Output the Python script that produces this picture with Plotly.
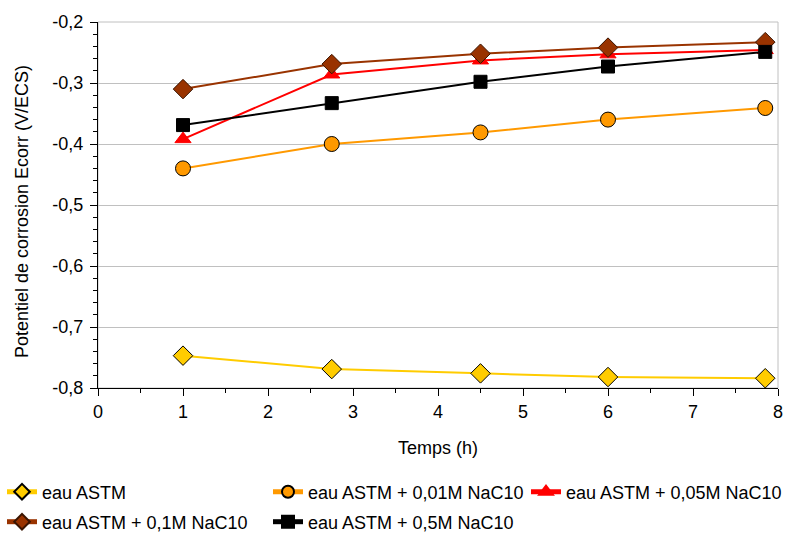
import plotly.graph_objects as go

temps = [1, 2.75, 4.5, 6, 7.85]
names = ["eau ASTM", "eau ASTM + 0,01M NaC10", "eau ASTM + 0,05M NaC10",
         "eau ASTM + 0,1M NaC10", "eau ASTM + 0,5M NaC10"]
eau_astm = [-0.747, -0.769, -0.776, -0.782, -0.784]
nac_001 = [-0.440, -0.400, -0.381, -0.360, -0.341]
nac_005 = [-0.392, -0.286, -0.263, -0.253, -0.246]
nac_01 = [-0.310, -0.269, -0.252, -0.242, -0.233]
nac_05 = [-0.369, -0.333, -0.298, -0.273, -0.249]
series = [eau_astm, nac_001, nac_005, nac_01, nac_05]

y_tickvals = [-0.8, -0.7, -0.6, -0.5, -0.4, -0.3, -0.2]
y_ticktext = ["-0,8", "-0,7", "-0,6", "-0,5", "-0,4", "-0,3", "-0,2"]
x_tickvals = [0, 1, 2, 3, 4, 5, 6, 7, 8]
y_title = "Potentiel de corrosion Ecorr (V/ECS)"
x_title = "Temps (h)"

styles = [
    dict(line="#FFCC00", fill="#FFCC00", outline="#000000", symbol="diamond", size=15),
    dict(line="#FF9900", fill="#FF9900", outline="#000000", symbol="circle", size=15),
    dict(line="#FF0000", fill="#FF0000", outline="#FF0000", symbol="triangle-up", size=14),
    dict(line="#993300", fill="#993300", outline="#3a1400", symbol="diamond", size=15),
    dict(line="#000000", fill="#000000", outline="#000000", symbol="square", size=13),
]
legend_ids = ["legend", "legend2", "legend3", "legend4", "legend5"]

L, R, T, B = 98, 778, 22, 388
W, H = 793, 534
pw, ph = R - L, B - T

def px_x(px):
    return (px - L) / pw

def px_y(py):
    return (B - py) / ph

fig = go.Figure()
for name, ys, st, lg in zip(names, series, styles, legend_ids):
    fig.add_trace(go.Scatter(
        x=temps, y=ys, name=name, mode="lines+markers",
        line=dict(color=st["line"], width=2),
        marker=dict(symbol=st["symbol"], size=st["size"], color=st["fill"],
                    line=dict(color=st["outline"], width=1)),
        legend=lg,
    ))

font = dict(family="Liberation Sans, Arial, sans-serif", size=18, color="#000000")
legend_pos = [(2, 492), (268, 492), (526, 492), (2, 522), (268, 522)]
legend_layout = {}
for lg, (lx, ly) in zip(legend_ids, legend_pos):
    legend_layout[lg] = dict(
        x=px_x(lx), y=px_y(ly), xanchor="left", yanchor="middle",
        orientation="h", bgcolor="rgba(0,0,0,0)", font=font,
        itemwidth=30, tracegroupgap=0, itemsizing="constant",
    )

fig.update_layout(
    width=W, height=H,
    margin=dict(l=L, r=W - R, t=T, b=H - B, autoexpand=False),
    paper_bgcolor="white", plot_bgcolor="white",
    font=font,
    separators=", ",
    showlegend=True,
    **legend_layout,
)
fig.update_xaxes(
    range=[0, 8], tickvals=x_tickvals, ticks="outside", ticklen=7, tickcolor="#000000",
    showline=True, linecolor="#000000", linewidth=1, showgrid=False, zeroline=False,
    minor=dict(dtick=0.5, ticks="outside", ticklen=4, tickcolor="#000000", showgrid=False),
    title=dict(text=x_title, font=font, standoff=20),
    tickfont=font, automargin=False,
)
fig.update_yaxes(
    range=[-0.8, -0.2], tickvals=y_tickvals, ticktext=y_ticktext,
    ticks="outside", ticklen=7, tickcolor="#000000",
    showline=True, linecolor="#000000", linewidth=1,
    showgrid=True, gridcolor="#C0C0C0", gridwidth=1, zeroline=False,
    minor=dict(dtick=0.02, tick0=-0.8, ticks="outside", ticklen=4, tickcolor="#000000", showgrid=False),
    tickfont=font, automargin=False, ticklabelstandoff=3,
)
fig.add_annotation(
    text=y_title, xref="paper", yref="paper", x=px_x(22), y=px_y(212),
    xanchor="center", yanchor="middle", textangle=-90, showarrow=False, font=font,
)
fig.add_shape(type="rect", xref="paper", yref="paper", x0=0, y0=0, x1=1, y1=1,
              line=dict(color="#C0C0C0", width=1), layer="below")

fig.write_html("out.html", post_script="document.body.style.margin='0px';",
               config={"displayModeBar": False})
